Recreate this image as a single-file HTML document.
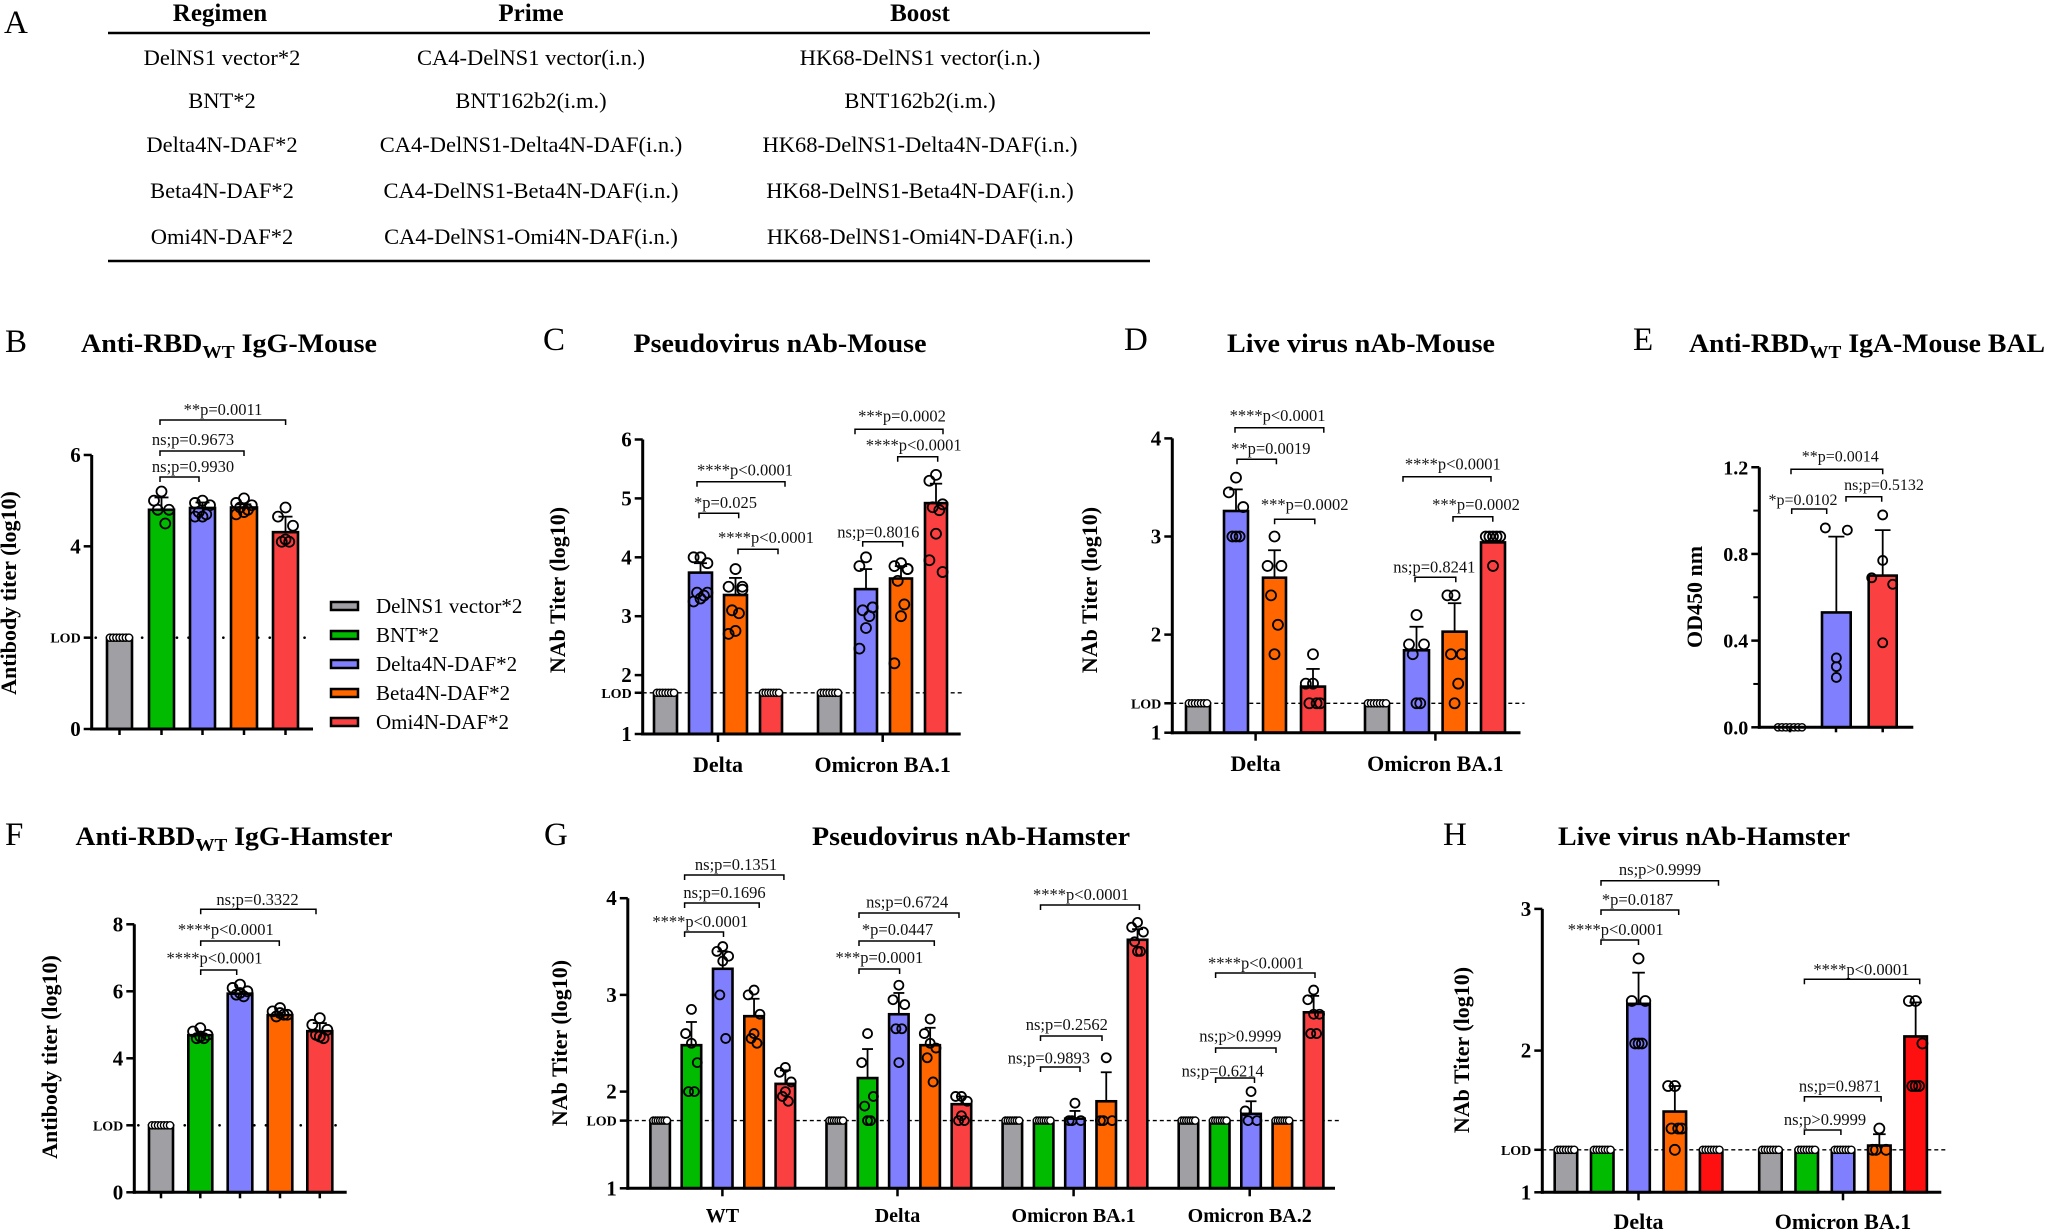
<!DOCTYPE html>
<html><head><meta charset="utf-8"><style>
html,body{margin:0;padding:0;background:#fff;}
svg{display:block;}
text{font-family:"Liberation Serif","Times New Roman",serif;}
</style></head><body>
<svg id="s" xmlns="http://www.w3.org/2000/svg" width="2047" height="1231" viewBox="0 0 2047 1231"></svg>
<script>
const S=document.getElementById('s');const NS='http://www.w3.org/2000/svg';
function add(t,a,txt,p){const e=document.createElementNS(NS,t);for(const k in a)e.setAttribute(k,a[k]);if(txt!=null)e.textContent=txt;(p||S).appendChild(e);return e;}
const FF='"Liberation Serif","Times New Roman",serif';
function txt(x,y,s,size,opt){opt=opt||{};const a={x:x,y:y,'font-size':size,'font-family':FF,'text-anchor':opt.anchor||'middle',fill:opt.fill||'#000'};if(opt.bold)a['font-weight']='bold';if(opt.len){a.textLength=opt.len;a.lengthAdjust='spacingAndGlyphs';}if(opt.rot)a.transform='rotate(-90 '+x+' '+y+')';return add('text',a,s);}
const C={g:'#a0a0a4',gr:'#00bb00',p:'#8080ff',o:'#ff6600',r:'#fa4040',rr:'#ff1010'};
// Panel letters
[['A',4,33],['B',5,352],['C',543,350],['D',1124,350],['E',1633,350],['F',5,845],['G',544,845],['H',1443,845]].forEach(l=>txt(l[1],l[2],l[0],33,{anchor:'start'}));
// Table A
add('line',{x1:108,y1:33,x2:1150,y2:33,stroke:'#000','stroke-width':2.5});
add('line',{x1:108,y1:261,x2:1150,y2:261,stroke:'#000','stroke-width':2.5});
txt(220,21,'Regimen',25,{bold:1});txt(531,21,'Prime',25,{bold:1});txt(920,21,'Boost',25,{bold:1});
const rows=[['DelNS1 vector*2','CA4-DelNS1 vector(i.n.)','HK68-DelNS1 vector(i.n.)'],['BNT*2','BNT162b2(i.m.)','BNT162b2(i.m.)'],['Delta4N-DAF*2','CA4-DelNS1-Delta4N-DAF(i.n.)','HK68-DelNS1-Delta4N-DAF(i.n.)'],['Beta4N-DAF*2','CA4-DelNS1-Beta4N-DAF(i.n.)','HK68-DelNS1-Beta4N-DAF(i.n.)'],['Omi4N-DAF*2','CA4-DelNS1-Omi4N-DAF(i.n.)','HK68-DelNS1-Omi4N-DAF(i.n.)']];
const ry=[65,108,152,198,244];
rows.forEach((r,i)=>{txt(222,ry[i],r[0],22.5);txt(531,ry[i],r[1],22.5);txt(920,ry[i],r[2],22.5);});
// Title helper
function title(cx,y,a,sub,b,len){const t=add('text',{x:cx,y:y,'font-size':26,'font-family':FF,'font-weight':'bold','text-anchor':'middle',textLength:len,lengthAdjust:'spacingAndGlyphs'});add('tspan',{},a,t);if(sub){add('tspan',{'font-size':18,dy:6},sub,t);add('tspan',{dy:-6},b,t);}return t;}
title(229,352,'Anti-RBD','WT',' IgG-Mouse',296);
title(780,352,'Pseudovirus nAb-Mouse',null,null,293);
title(1361,352,'Live virus nAb-Mouse',null,null,268);
title(1867,352,'Anti-RBD','WT',' IgA-Mouse BAL',356);
title(234,845,'Anti-RBD','WT',' IgG-Hamster',317);
title(971,845,'Pseudovirus nAb-Hamster',null,null,318);
title(1704,845,'Live virus nAb-Hamster',null,null,292);

const pat=[0,-.3,.3,-.15,.15,0,-.3,.3];
function panel(P){
 const Y=v=>P.yb-(v-P.vmin)*P.ppu;
 if(P.lod!=null){const y=Y(P.lod);
  if(P.dot)add('line',{x1:P.ax+4,y1:y,x2:P.end,y2:y,stroke:'#000','stroke-width':2.6,'stroke-dasharray':'0.1 11.5','stroke-linecap':'round'});
  else add('line',{x1:P.ax,y1:y,x2:P.end+4,y2:y,stroke:'#000','stroke-width':1.4,'stroke-dasharray':'4 3'});
  add('line',{x1:P.ax-8,y1:y,x2:P.ax,y2:y,stroke:'#000','stroke-width':2.5});
  txt(P.ax-11,y+5,'LOD',P.lodfs||14,{anchor:'end',bold:1});}
 P.bars.forEach(b=>{const top=Y(b.v),bot=P.yb,cx=b.x+b.w/2;
  if(b.noBar!==true)add('rect',{x:b.x,y:top,width:b.w,height:bot-top,fill:b.c,stroke:'#000','stroke-width':2.6});
  if(b.e){add('line',{x1:cx,y1:top,x2:cx,y2:Y(b.e),stroke:'#000','stroke-width':1.8});add('line',{x1:cx-b.w*0.28,y1:Y(b.e),x2:cx+b.w*0.28,y2:Y(b.e),stroke:'#000','stroke-width':1.8});}
  if(b.row){const n=7;for(let i=0;i<n;i++)add('circle',{cx:b.x+3+i*(b.w-6)/(n-1),cy:Y(b.rowv!=null?b.rowv:b.v),r:3.6,fill:'#fff',stroke:'#000','stroke-width':1.4});}
  if(b.pts)b.pts.forEach((p,i)=>{let dx,v;if(Array.isArray(p)){dx=p[0];v=p[1];}else{dx=pat[i%pat.length]*b.w;v=p;}add('circle',{cx:cx+dx,cy:Y(v),r:P.r||5,fill:'none',stroke:'#000','stroke-width':1.8});});
 });
 const ytop=Y(P.ticks[P.ticks.length-1][0]);
 add('line',{x1:P.ax,y1:ytop,x2:P.ax,y2:P.yb+1.5,stroke:'#000','stroke-width':3});
 add('line',{x1:P.ax-1.5,y1:P.yb,x2:P.end,y2:P.yb,stroke:'#000','stroke-width':3});
 P.ticks.forEach(t=>{const y=Y(t[0]);add('line',{x1:P.ax-8,y1:y,x2:P.ax,y2:y,stroke:'#000','stroke-width':2.5});if(t[1]!=null)txt(P.ax-11,y+7,t[1],P.tfs||21,{anchor:'end',bold:1});});
 (P.minor||[]).forEach(v=>{const y=Y(v);add('line',{x1:P.ax-6,y1:y,x2:P.ax,y2:y,stroke:'#000','stroke-width':2});});
 P.xt.forEach(x=>add('line',{x1:x,y1:P.yb,x2:x,y2:P.yb+(P.xtl||8),stroke:'#000','stroke-width':2.5}));
 (P.gl||[]).forEach(g=>txt(g[0],P.gly,g[1],P.glfs||22,{bold:1}));
 txt(P.ylx,P.yly,P.yl,P.ylfs||22,{bold:1,rot:1});
 (P.br||[]).forEach(b=>{add('path',{d:`M${b[0]},${b[2]+5}V${b[2]}H${b[1]}V${b[2]+5}`,fill:'none',stroke:'#000','stroke-width':1.5});txt(b[3],b[4],b[5],P.bfs||16.5,{fill:'#111'});});
}
// B
panel({vmin:0,yb:729,ppu:45.67,ax:91.7,end:313,lod:2,dot:1,ticks:[[0,'0'],[4,'4'],[6,'6']],
 bars:[{x:107,w:25,v:2,c:C.g,row:1},{x:149,w:25,v:4.8,c:C.gr,e:5.07,pts:[5.2,5.0,4.8,4.8,4.5]},{x:190,w:25,v:4.84,c:C.p,e:4.96,pts:[5.0,4.95,4.9,4.75,4.7,4.65,4.65]},{x:231,w:26,v:4.85,c:C.o,e:4.92,pts:[5.05,4.95,4.9,4.85,4.8,4.75,4.7]},{x:273,w:25,v:4.31,c:C.r,e:4.65,pts:[4.85,4.65,4.45,4.1,4.1,4.15]}],
 xt:[119.5,161.5,202.5,244,285.5],xtl:6,ylx:16,yly:593,yl:'Antibody titer (log10)',
 br:[[160,285.6,420,223,415,'**p=0.0011'],[160,244,451,193,445,'ns;p=0.9673'],[160,199,477,193,472,'ns;p=0.9930']]});
[['DelNS1 vector*2',C.g],['BNT*2',C.gr],['Delta4N-DAF*2',C.p],['Beta4N-DAF*2',C.o],['Omi4N-DAF*2',C.r]].forEach((l,i)=>{const y=606+i*29;add('rect',{x:331,y:y-4,width:27,height:8,fill:l[1],stroke:'#000','stroke-width':2.5});txt(376,y+7,l[0],21,{anchor:'start'});});
// C
panel({vmin:1,yb:734,ppu:58.9,ax:642.7,end:960.7,lod:1.7,ticks:[[1,'1'],[2,'2'],[3,'3'],[4,'4'],[5,'5'],[6,'6']],
 bars:[{x:654,w:23,v:1.7,c:C.g,row:1},{x:689,w:23,v:3.74,c:C.p,e:3.9,pts:[4.0,4.0,3.9,3.4,3.35,3.3,3.25,3.4]},{x:724,w:23,v:3.36,c:C.o,e:3.65,pts:[3.8,3.5,3.5,3.1,3.05,2.75,2.7,3.45]},{x:760,w:22,v:1.7,c:C.r,row:1},
 {x:818,w:23,v:1.7,c:C.g,row:1},{x:855,w:22,v:3.46,c:C.p,e:3.8,pts:[4.0,3.85,3.15,3.1,3.0,2.8,2.45,3.15]},{x:890,w:22,v:3.64,c:C.o,e:3.85,pts:[3.9,3.85,3.8,3.6,3.2,3.0,2.2,3.8]},{x:925,w:22,v:4.92,c:C.r,e:5.25,pts:[5.4,5.3,4.9,4.85,4.8,4.4,3.95,3.75]}],
 xt:[718,882.7],gl:[[718,'Delta'],[882.7,'Omicron BA.1']],gly:772,ylx:565,yly:590,yl:'NAb Titer (log10)',
 br:[[697,785,481.7,745,475.7,'****p<0.0001'],[699,738.7,513.3,725.5,508,'*p=0.025'],[738,778,549.3,766,543,'****p<0.0001'],[855,943,429.3,902,421.7,'***p=0.0002'],[897.7,937.7,456.7,913.7,450.7,'****p<0.0001'],[862.7,902.7,541.7,878.3,537.3,'ns;p=0.8016']]});
// D
panel({vmin:1,yb:732.7,ppu:98.1,ax:1172.3,end:1520.5,lod:1.3,ticks:[[1,'1'],[2,'2'],[3,'3'],[4,'4']],
 bars:[{x:1186,w:24,v:1.3,c:C.g,row:1},{x:1224,w:24,v:3.26,c:C.p,e:3.48,pts:[3.6,3.45,3.3,3.0,3.0,3.0]},{x:1263,w:23,v:2.58,c:C.o,e:2.86,pts:[3.0,2.7,2.7,2.4,2.1,1.8]},{x:1301,w:24,v:1.47,c:C.r,e:1.65,pts:[1.8,1.5,1.3,1.3,1.3,1.5]},
 {x:1365,w:24,v:1.3,c:C.g,row:1},{x:1404,w:25,v:1.84,c:C.p,e:2.08,pts:[2.2,1.9,1.9,1.8,1.3,1.3]},{x:1442.6,w:24,v:2.03,c:C.o,e:2.32,pts:[2.4,2.4,1.8,1.8,1.5,1.3]},{x:1481,w:24,v:2.94,c:C.r,pts:[3.0,3.0,3.0,3.0,3.0,2.7]}],
 xt:[1255.6,1435.4],gl:[[1255.6,'Delta'],[1435.4,'Omicron BA.1']],gly:771,ylx:1097,yly:590,yl:'NAb Titer (log10)',
 br:[[1235,1323.8,427.7,1277.6,421,'****p<0.0001'],[1237,1276.4,459.3,1270.8,454,'**p=0.0019'],[1274.6,1314.8,519.3,1304.7,510,'***p=0.0002'],[1403,1491,476.7,1452.8,469.3,'****p<0.0001'],[1453,1492.8,516.7,1476,510,'***p=0.0002'],[1415,1455.8,577.3,1434.3,572.7,'ns;p=0.8241']]});
// E
panel({vmin:0,yb:727.3,ppu:216.7,ax:1759.3,end:1913.3,ticks:[[0,'0.0'],[0.4,'0.4'],[0.8,'0.8'],[1.2,'1.2']],minor:[0.2,0.6,1.0],tfs:20,
 bars:[{x:1775,w:30,v:0,c:'none',noBar:true,row:1,rowv:0},{x:1822,w:28.7,v:0.53,c:C.p,e:0.88,pts:[[-11,0.92],[11,0.91],[0,0.32],[0,0.28],[0,0.23]]},{x:1868.7,w:28,v:0.70,c:C.r,e:0.91,pts:[[0,0.98],[0,0.77],[-11,0.69],[10,0.66],[0,0.39]]}],
 r:4.5,xt:[1790,1836,1882.7],xtl:5,ylx:1702,yly:597,yl:'OD450 nm',
 br:[[1791,1882.7,469.3,1840.3,461.7,'**p=0.0014'],[1791.7,1826.7,509,1803,505,'*p=0.0102'],[1846,1881.7,496.7,1884,490,'ns;p=0.5132']],bfs:16});
// F
panel({vmin:0,yb:1192.3,ppu:33.5,ax:134.3,end:346.7,lod:2,dot:1,ticks:[[0,'0'],[4,'4'],[6,'6'],[8,'8']],
 bars:[{x:149,w:24,v:2,c:C.g,row:1},{x:188.3,w:24,v:4.69,c:C.gr,pts:[4.9,4.8,4.7,4.6,4.6,4.65]},{x:227.7,w:24.6,v:5.93,c:C.p,pts:[6.2,6.1,6.0,5.9,5.85,5.95]},{x:267.7,w:24.6,v:5.29,c:C.o,pts:[5.5,5.4,5.3,5.25,5.3,5.35]},{x:307.3,w:25,v:4.81,c:C.r,e:5.05,pts:[5.2,5.0,4.85,4.7,4.6,4.65]}],
 xt:[161,200.3,240,280,319.8],xtl:6,ylx:57,yly:1057,yl:'Antibody titer (log10)',
 br:[[200.7,316,909.3,257.5,905,'ns;p=0.3322'],[200.7,279.3,941,225.8,935,'****p<0.0001'],[200.7,236.7,970,214.5,963.3,'****p<0.0001']]});
// G
(function(){const cols=[C.g,C.gr,C.p,C.o,C.r];
 const vals=[[1.7,2.48,3.27,2.78,2.08],[1.7,2.14,2.8,2.48,1.87],[1.7,1.7,1.72,1.9,3.57],[1.7,1.7,1.77,1.7,2.82]];
 const errs=[[0,2.72,3.45,2.96,2.22],[0,2.44,3.02,2.66,1.95],[0,0,1.8,2.2,3.68],[0,0,1.9,0,2.99]];
 const pts=[[null,[2.85,2.6,2.3,2.0,2.0,2.5],[3.5,3.45,3.4,3.0,2.55,3.35],[3.05,3.0,2.8,2.55,2.5,2.6],[2.25,2.2,2.1,1.95,1.9,2.0]],
 [null,[2.6,2.3,1.95,1.85,1.7,1.7],[3.1,2.95,2.9,2.65,2.65,2.3],[2.75,2.6,2.45,2.35,2.1,2.5],[1.95,1.95,1.9,1.7,1.7,1.75]],
 [null,null,[1.88,1.7,1.7,1.7],[2.35,1.7,1.7,1.7],[3.75,3.7,3.65,3.55,3.45,3.45]],
 [null,null,[2.0,1.8,1.7,1.7],null,[3.05,2.95,2.8,2.6,2.6,2.8]]];
 const bars=[];for(let g=0;g<4;g++)for(let i=0;i<5;i++){const b={x:650.4+g*176.1+i*31.3,w:19.5,v:vals[g][i],c:cols[i]};if(errs[g][i])b.e=errs[g][i];if(pts[g][i])b.pts=pts[g][i];else b.row=1;bars.push(b);}
 panel({vmin:1,yb:1188.3,ppu:96.7,ax:627.8,end:1335,lod:1.7,ticks:[[1,'1'],[2,'2'],[3,'3'],[4,'4']],r:4.5,
 bars:bars,xt:[722.4,897.5,1073.6,1249.7],gl:[[722.4,'WT'],[897.5,'Delta'],[1073.6,'Omicron BA.1'],[1249.7,'Omicron BA.2']],gly:1222,glfs:20,ylx:567,yly:1043,yl:'NAb Titer (log10)',
 br:[[684.6,723.5,932,700.3,927,'****p<0.0001'],[684.6,759.2,903,724.5,898,'ns;p=0.1696'],[684.6,783.9,875,736,870,'ns;p=0.1351'],
 [859,899.6,969,879.4,963,'***p=0.0001'],[859,934.3,941,897.5,935,'*p=0.0447'],[859,959,913,907.2,907.3,'ns;p=0.6724'],
 [1040.5,1139.4,905,1081,900,'****p<0.0001'],[1040.5,1102,1036,1066.8,1030,'ns;p=0.2562'],[1040.5,1080,1067,1048.9,1063.3,'ns;p=0.9893'],
 [1215.6,1315,973,1256,968.3,'****p<0.0001'],[1215.6,1276,1048,1240.3,1041.7,'ns;p>0.9999'],[1215.6,1254.5,1078,1222.7,1076.7,'ns;p=0.6214']]});})();
// H
(function(){const cols=[C.g,C.gr,C.p,C.o,C.rr];
 const vals=[[1.3,1.3,2.33,1.57,1.3],[1.3,1.3,1.3,1.33,2.10]];
 const errs=[[0,0,2.55,1.75,0],[0,0,0,1.41,2.34]];
 const pts=[[null,null,[2.65,2.35,2.35,2.05,2.05,2.05],[1.75,1.75,1.45,1.45,1.45,1.3],null],[null,null,null,[1.45,1.3,1.3,1.3],[2.35,2.35,2.05,1.75,1.75,1.75]]];
 const bars=[];for(let g=0;g<2;g++)for(let i=0;i<5;i++){const b={x:1554.7+g*204.5+i*36.3,w:22.5,v:vals[g][i],c:cols[i]};if(errs[g][i])b.e=errs[g][i];if(pts[g][i])b.pts=pts[g][i];else b.row=1;bars.push(b);}
 panel({vmin:1,yb:1192.3,ppu:141.7,ax:1542.3,end:1941.3,lod:1.3,ticks:[[1,'1'],[2,'2'],[3,'3']],
 bars:bars,xt:[1638.5,1843],gl:[[1638.5,'Delta'],[1843,'Omicron BA.1']],gly:1229,ylx:1469,yly:1050,yl:'NAb Titer (log10)',
 br:[[1601,1718.5,880.7,1660,875,'ns;p>0.9999'],[1601,1678.7,910,1637.5,905,'*p=0.0187'],[1601,1638.5,940,1615.7,935,'****p<0.0001'],
 [1804.4,1919.7,979.3,1861.4,975,'****p<0.0001'],[1804.4,1881.1,1096.7,1840,1091.7,'ns;p=0.9871'],[1804.4,1840.9,1130,1825,1125,'ns;p>0.9999']]});})();
</script>
</body></html>
